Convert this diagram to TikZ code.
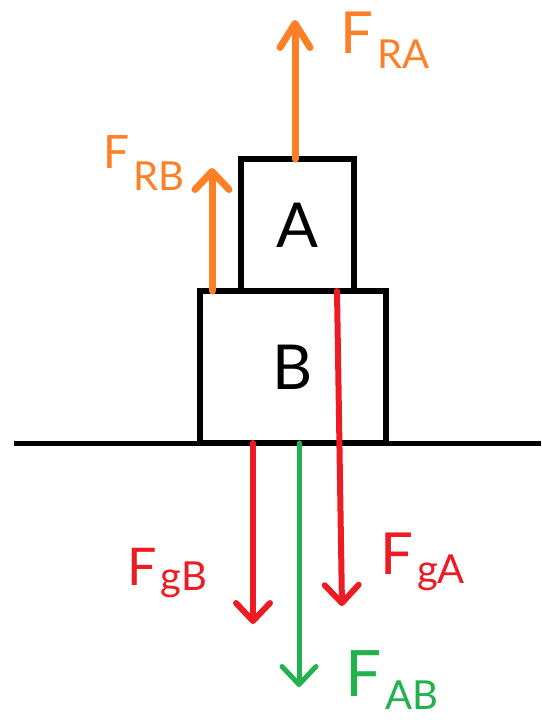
\documentclass[tikz,border=0pt]{standalone}
\usepackage{fontspec}
\setmainfont{Lato}
\usetikzlibrary{arrows.meta, positioning, calc}
\definecolor{forceOrange}{RGB}{255,127,39}
\definecolor{forceRed}{RGB}{237,28,36}
\definecolor{forceGreen}{RGB}{34,177,76}
\newcommand{\forcename}[2][14pt]{F\kern4pt\raisebox{-#1}{\fontsize{40}{40}\selectfont #2}}

\begin{document}
\begin{tikzpicture}[x=1pt, y=-1pt,
    block/.style={draw=black, line width=6pt, outer sep=0pt, inner sep=0pt,
      font=\fontsize{62}{62}\selectfont},
    force/.style={line width=6pt, line cap=round,
      -{Straight Barb[length=18pt, width=34pt, round]}},
    flabel/.style={inner sep=0pt, anchor=north west}
  ]
  \useasboundingbox (0,0) rectangle (541,723);

  % ground and the two blocks
  \coordinate (groundL) at (14,443);
  \coordinate (groundR) at (541,443);
  \draw[line width=5pt] (groundL) -- (groundR);
  \node[block, minimum width=186pt, minimum height=152pt] (boxB) at (293,367) {B};
  \node[block, minimum width=113pt, minimum height=132pt, above=0pt of boxB, xshift=4.5pt] (boxA) {A};

  % arrow tips
  \coordinate (raTip) at (295,20);
  \coordinate (rbTip) at (212,168);
  \coordinate (gaTip) at (342,606);
  \coordinate (gbTip) at (253,624);
  \coordinate (abTip) at (299,687);

  % forces
  \draw[force, forceOrange, line width=7pt, -{Straight Barb[length=24pt, width=30pt, round]}]
    (boxA.north -| raTip) -- (raTip);
  \draw[force, forceOrange, line width=7pt] (boxB.north -| rbTip) -- (rbTip);
  \draw[force, forceRed] ($(boxA.south east)+(-17,0)$) -- (gaTip);
  \draw[force, forceRed] (boxB.south -| gbTip) -- (gbTip);
  \draw[force, forceGreen, line width=5pt] (boxB.south -| abTip) -- (abTip);

  % labels
  \node[flabel, text=forceOrange, font=\fontsize{58}{58}\selectfont] (raLabel) at (340,12) {\forcename[15pt]{RA}};
  \node[flabel, text=forceOrange, font=\fontsize{46}{46}\selectfont] (rbLabel) at (103,135) {\forcename[22pt]{RB}};
  \node[flabel, text=forceRed, font=\fontsize{52}{52}\selectfont] (gbLabel) at (127,548) {\forcename[5pt]{gB}};
  \node[flabel, text=forceRed, font=\fontsize{58}{58}\selectfont] (gaLabel) at (380,533) {\forcename[9pt]{gA}};
  \node[flabel, text=forceGreen, font=\fontsize{64}{64}\selectfont] (abLabel) at (345,650) {\forcename[13pt]{AB}};
\end{tikzpicture}
\end{document}
